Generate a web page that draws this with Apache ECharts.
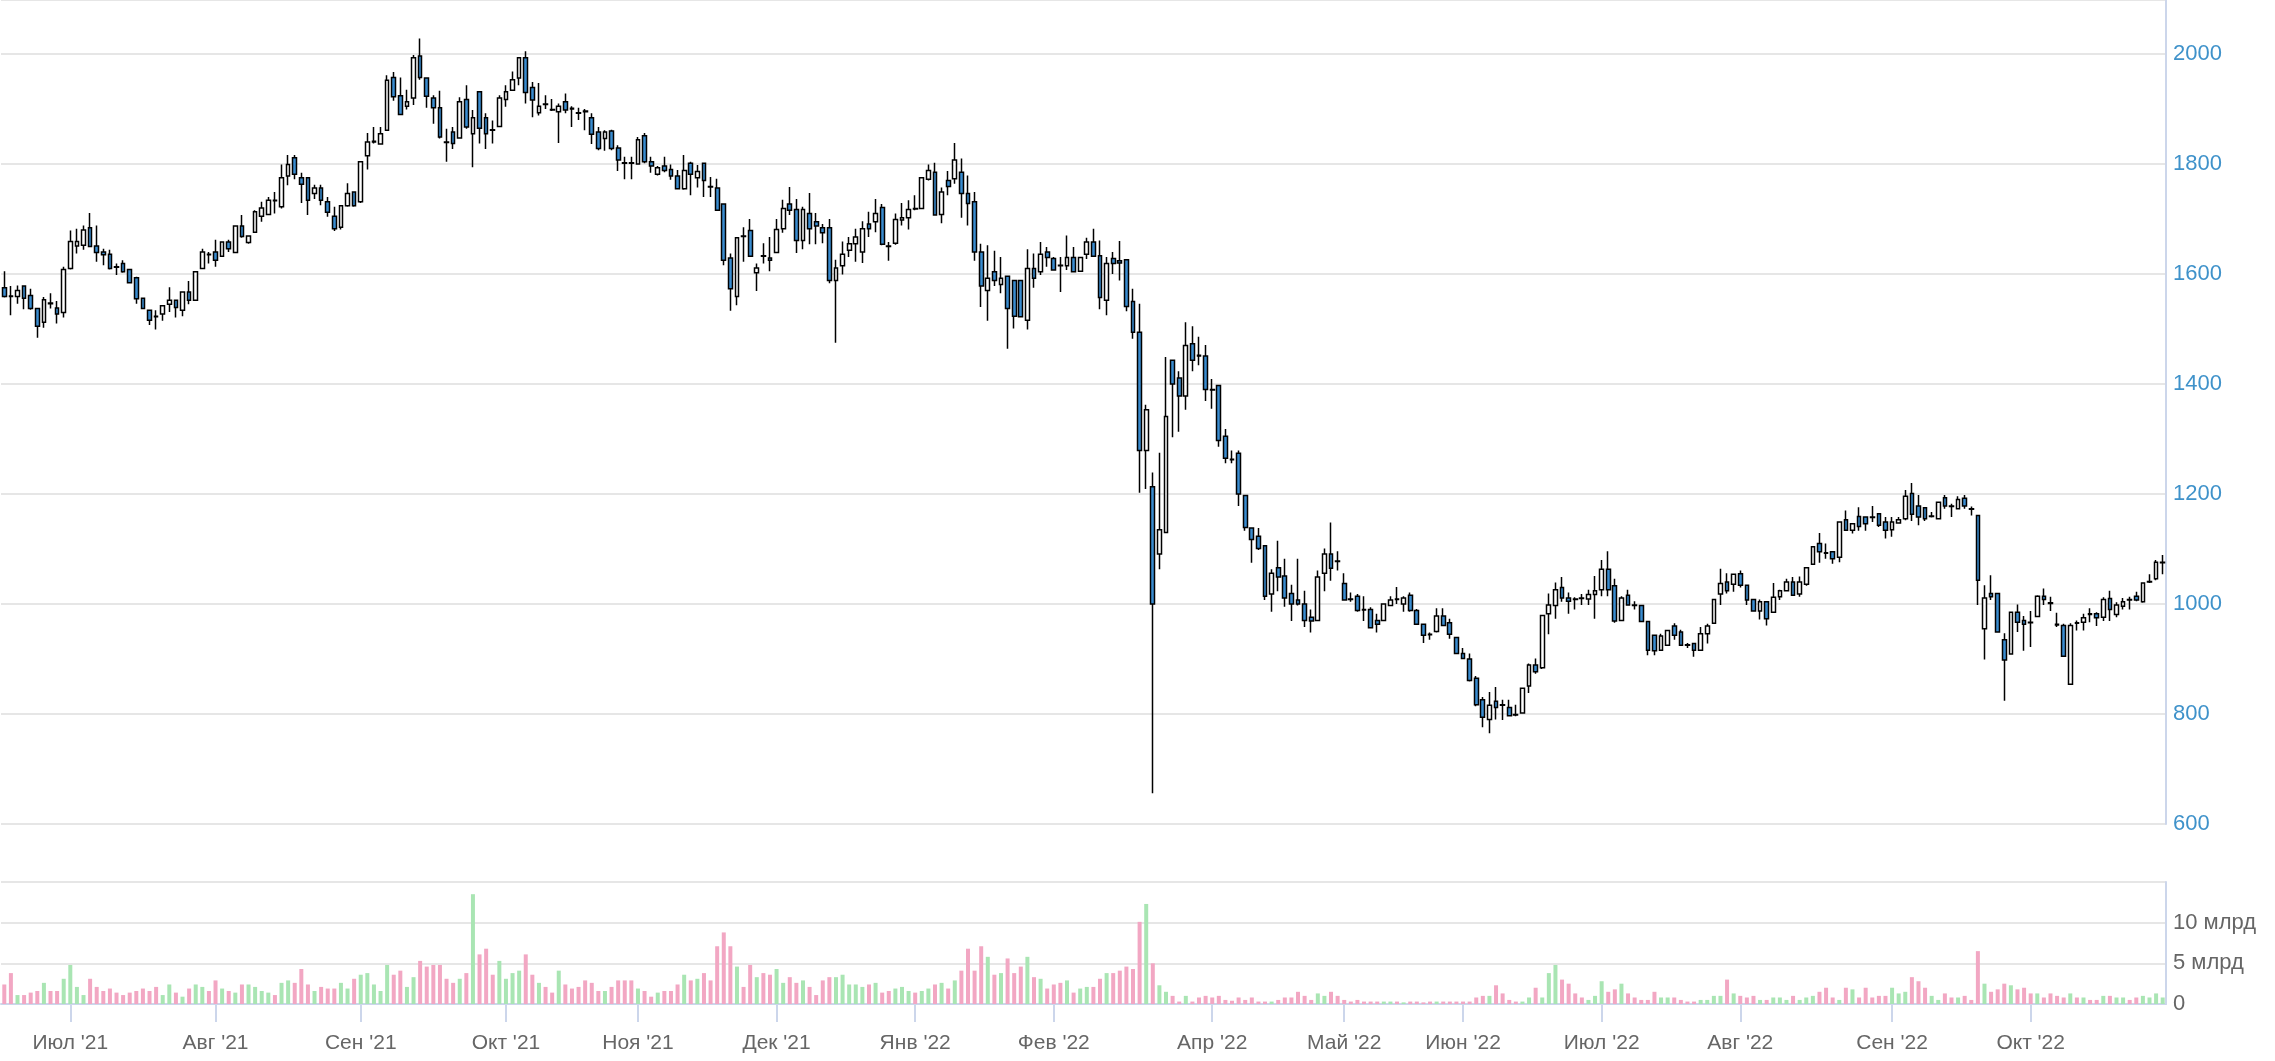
<!DOCTYPE html>
<html>
<head>
<meta charset="utf-8">
<script src="https://cdn.jsdelivr.net/npm/echarts@6/dist/echarts.min.js"></script>
<style>html,body{margin:0;padding:0;background:#fff}#c{width:2275px;height:1061px}</style>
</head>
<body>
<div id="c"></div>
<script>
// trading-day segments: [first day, number of trading days, month label shown]
const segments = [
  ['2021-06-17',10,false],['2021-07-01',22,true],['2021-08-02',22,true],['2021-09-01',22,true],
  ['2021-10-01',20,true],['2021-11-01',21,true],['2021-12-01',21,true],['2022-01-03',21,true],
  ['2022-02-01',19,true],['2022-03-24',5,false],['2022-04-01',20,true],['2022-05-04',18,true],
  ['2022-06-01',21,true],['2022-07-01',21,true],['2022-08-01',23,true],['2022-09-01',21,true],
  ['2022-10-03',21,true]
];
const monthNames = ['Янв','Фев','Мар','Апр','Май','Июн','Июл','Авг','Сен','Окт','Ноя','Дек'];

const open = [
1575,1560,1559,1578,1561,1537,1512,1547,1538,1530,
1610,1651,1652,1684,1651,1640,1636,1613,1619,1608,
1593,1556,1534,1523,1527,1545,1552,1534,1567,1552,
1610,1636,1640,1632,1658,1639,1687,1657,1676,1705,
1708,1734,1722,1778,1811,1775,1775,1746,1756,1731,
1705,1685,1724,1749,1731,1815,1840,1836,1861,1957,
1924,1905,1920,1996,1956,1920,1902,1840,1858,1847,
1917,1855,1931,1884,1862,1868,1917,1934,1956,1993,
1939,1893,1909,1899,1895,1913,1901,1893,1896,1884,
1858,1846,1860,1829,1802,1802,1800,1851,1804,1781,
1796,1790,1778,1755,1801,1775,1801,1759,1756,1727,
1629,1559,1669,1679,1602,1633,1629,1639,1682,1727,
1717,1661,1710,1695,1684,1684,1588,1615,1643,1655,
1640,1691,1695,1721,1651,1656,1698,1702,1719,1719,
1772,1785,1708,1770,1773,1785,1746,1731,1640,1570,
1604,1581,1596,1588,1588,1516,1610,1604,1640,1628,
1616,1615,1630,1605,1636,1658,
1633,1552,1628,1624,1626,1550,1494,1279,1213,1091,
1130,1443,1411,1378,1473,1452,1451,1390,1397,1305,
1263,1274,1197,1138,1123,1106,1018,1066,1051,1019,
1007,1000,976,970,1056,1091,1078,1037,1009,1014,
990,990,970,970,997,1009,1000,1016,988,963,
945,950,978,966,939,910,900,865,826,790,
823,817,812,799,802,851,889,884,982,997,
1030,1011,1009,1011,1009,1017,1026,1063,1033,970,
1016,998,997,
968,943,916,925,960,949,926,928,916,946,
965,1018,1040,1036,1055,1034,1008,987,1004,985,
1013,1024,1040,1018,1036,1072,1110,1093,1095,1085,
1153,1134,1159,1158,1158,1164,1149,1135,1147,1155,
1201,1178,1175,1159,1155,1193,1178,1173,1192,1173,
1161,955,1019,1019,935,909,985,970,967,977,
1014,1002,963,961,854,966,967,982,982,976,
1010,981,996,1008,1014,1004,1040,1046,1075
];
const close = [
1559,1559,1570,1556,1537,1505,1553,1546,1527,1608,
1659,1659,1680,1650,1639,1635,1610,1612,1604,1584,
1555,1537,1516,1522,1542,1552,1539,1567,1552,1604,
1640,1635,1625,1658,1646,1687,1668,1669,1713,1720,
1734,1733,1775,1799,1781,1763,1734,1756,1734,1712,
1682,1724,1746,1724,1804,1840,1841,1855,1952,1922,
1890,1913,1993,1957,1923,1902,1849,1839,1837,1913,
1867,1884,1865,1855,1861,1920,1931,1953,1993,1930,
1916,1905,1908,1898,1905,1898,1900,1892,1895,1854,
1828,1858,1828,1807,1801,1801,1844,1804,1796,1793,
1788,1778,1755,1788,1781,1786,1770,1758,1716,1625,
1573,1666,1668,1632,1611,1632,1625,1681,1719,1716,
1661,1717,1682,1687,1675,1588,1611,1636,1655,1667,
1682,1682,1710,1654,1650,1699,1702,1717,1718,1775,
1788,1707,1749,1759,1807,1746,1728,1640,1578,1592,
1588,1592,1537,1523,1522,1610,1592,1636,1630,1607,
1615,1630,1604,1630,1658,1632,
1557,1619,1619,1620,1541,1494,1279,1353,1000,1135,
1341,1400,1378,1470,1443,1451,1390,1389,1297,1265,
1262,1200,1139,1117,1101,1014,1056,1049,1011,1000,
1000,970,969,1049,1091,1065,1077,1007,1008,988,
989,957,963,1000,1007,1008,1011,988,963,943,
944,978,961,945,910,901,861,817,794,816,
812,816,797,798,847,889,877,979,998,1026,
1011,1005,1008,1010,1017,1024,1063,1026,969,1011,
998,997,968,
916,915,942,952,943,925,925,916,946,960,
1008,1037,1024,1054,1034,1007,987,1004,973,1012,
1024,1040,1016,1040,1066,1104,1095,1092,1082,1149,
1134,1146,1141,1146,1157,1143,1134,1149,1153,1196,
1163,1158,1155,1160,1185,1178,1177,1190,1178,1172,
1043,1011,1013,949,898,985,967,963,966,1014,
1008,1001,962,905,961,965,975,981,975,1008,
990,998,1004,1007,1007,1038,1041,1076,1076
];
const low = [
1557,1525,1546,1536,1535,1484,1502,1537,1510,1521,
1608,1637,1644,1649,1622,1616,1608,1598,1602,1583,
1546,1537,1507,1499,1515,1531,1521,1523,1545,1552,
1610,1619,1613,1632,1640,1639,1666,1655,1676,1695,
1708,1710,1719,1761,1772,1729,1707,1736,1725,1704,
1678,1681,1722,1722,1729,1790,1837,1836,1860,1915,
1889,1899,1907,1953,1902,1873,1846,1804,1827,1846,
1864,1794,1837,1827,1837,1867,1904,1933,1943,1910,
1885,1888,1900,1896,1838,1892,1867,1880,1861,1836,
1825,1824,1825,1787,1772,1772,1799,1801,1784,1779,
1785,1771,1755,1753,1743,1757,1740,1740,1716,1616,
1533,1543,1622,1631,1569,1619,1605,1639,1675,1707,
1638,1645,1654,1654,1656,1583,1475,1599,1631,1622,
1620,1667,1676,1652,1624,1653,1688,1681,1716,1719,
1770,1707,1692,1743,1764,1702,1688,1624,1540,1515,
1578,1565,1464,1501,1522,1499,1575,1598,1613,1606,
1567,1607,1603,1604,1627,1631,
1536,1525,1600,1588,1532,1482,1202,1209,656,1063,
1130,1303,1313,1353,1423,1434,1369,1355,1286,1256,
1256,1178,1133,1075,1098,1007,986,1023,995,969,
997,958,948,970,1023,1042,1061,1007,1004,986,
969,956,948,969,996,1000,986,986,962,929,
935,948,961,937,909,900,859,814,776,765,
790,789,796,796,802,838,873,882,945,973,
1004,982,990,998,998,973,1014,1014,966,969,
997,990,967,
907,907,915,925,935,925,920,904,916,928,
965,998,1019,1022,1030,998,986,972,961,985,
1007,1024,1016,1013,1033,1072,1075,1082,1073,1076,
1134,1128,1133,1133,1149,1140,1119,1122,1146,1152,
1151,1143,1151,1157,1155,1173,1158,1173,1173,1161,
998,899,1007,949,824,909,949,915,922,976,
998,987,958,904,854,952,952,967,960,969,
969,976,990,990,1005,1002,1038,1043,1054
];
const high = [
1605,1578,1579,1579,1573,1537,1558,1565,1551,1613,
1679,1682,1688,1711,1688,1646,1644,1619,1625,1608,
1595,1556,1534,1534,1542,1576,1552,1567,1587,1604,
1646,1640,1662,1658,1662,1687,1707,1669,1716,1731,
1740,1749,1799,1816,1816,1784,1775,1762,1762,1740,
1722,1724,1765,1749,1804,1856,1867,1867,1961,1967,
1957,1935,1998,2028,1956,1925,1933,1864,1867,1921,
1943,1898,1931,1892,1879,1925,1943,1968,1993,2005,
1949,1947,1925,1918,1910,1928,1905,1902,1900,1892,
1867,1861,1862,1834,1813,1813,1849,1856,1813,1796,
1813,1799,1789,1816,1804,1798,1802,1776,1773,1728,
1637,1667,1685,1700,1619,1656,1667,1700,1735,1758,
1736,1722,1747,1711,1691,1700,1626,1659,1667,1682,
1696,1713,1736,1727,1658,1710,1729,1734,1743,1775,
1799,1802,1757,1787,1838,1810,1779,1749,1655,1652,
1642,1631,1596,1588,1588,1645,1637,1658,1649,1631,
1631,1670,1649,1631,1666,1682,
1661,1631,1640,1660,1626,1573,1546,1362,1239,1275,
1449,1443,1423,1512,1505,1486,1471,1409,1397,1318,
1279,1279,1197,1138,1138,1106,1063,1115,1082,1035,
1082,1024,990,1061,1101,1148,1096,1056,1021,1018,
1014,994,982,1000,1014,1031,1014,1021,991,963,
948,992,992,973,939,920,910,869,831,840,
849,826,826,817,847,892,901,979,1019,1039,
1049,1021,1012,1018,1026,1051,1080,1096,1046,1014,
1026,1005,998,
968,943,946,953,965,953,929,928,958,964,
1008,1064,1056,1054,1061,1034,1008,1008,1004,1038,
1026,1046,1049,1050,1066,1104,1129,1110,1095,1149,
1170,1147,1176,1158,1178,1164,1158,1158,1158,1207,
1220,1198,1175,1167,1185,1198,1182,1196,1198,1177,
1161,1034,1052,1019,947,985,999,978,987,1016,
1028,1013,984,964,965,970,982,992,985,1012,
1024,1003,1011,1013,1022,1038,1054,1080,1089
];
// daily volume, billions
const volume = [
2.4,3.8,1.1,1.1,1.4,1.6,2.6,1.6,1.6,3.1,
4.8,2.1,1.1,3.1,2.1,1.6,1.9,1.4,1.1,1.4,
1.6,1.9,1.6,2.1,1.1,2.4,1.4,0.9,1.9,2.4,
2.1,1.6,2.9,1.9,1.6,1.4,2.4,2.4,2.1,1.6,
1.4,1.1,2.6,2.9,2.6,4.3,2.4,1.6,2.1,1.9,
1.9,2.6,1.9,3.1,3.6,3.8,2.4,1.6,4.8,3.6,
4.1,2.1,3.3,5.3,4.6,4.8,4.8,3.1,2.6,3.1,
3.8,13.5,6.1,6.8,3.6,5.3,3.1,3.8,4.1,6.1,
3.6,2.6,2.1,1.4,4.1,2.4,1.9,2.1,2.9,
2.6,1.6,1.6,2.1,2.9,2.9,2.9,1.9,1.6,
0.9,1.4,1.6,1.6,2.4,3.6,2.9,3.1,3.8,2.9,
7.1,8.8,7.1,4.6,2.1,4.8,3.3,3.8,3.6,4.3,
2.6,3.3,2.6,2.9,2.1,1.1,2.9,3.3,3.3,3.6,
2.4,2.4,2.1,2.4,2.6,1.4,1.6,1.9,2.1,1.6,
1.4,1.6,1.9,2.4,2.6,1.9,2.9,4.1,6.8,4.1,
7.1,5.8,3.6,3.8,5.6,3.8,4.6,5.8,3.3,3.1,
1.9,2.4,2.6,2.9,1.4,1.9,2.1,2.1,3.1,3.8,
3.8,4.1,4.6,4.3,
10.1,12.3,5.0,2.3,1.5,1.0,0.3,1.0,0.3,0.8,
1.0,0.8,1.0,0.5,0.4,0.8,0.5,0.8,0.3,0.3,
0.3,0.5,0.8,0.8,1.5,1.0,0.5,1.3,1.0,1.5,
1.0,0.5,0.3,0.5,0.3,0.3,0.3,0.3,0.3,0.3,
0.2,0.3,0.3,0.2,0.3,0.3,0.3,0.3,0.3,0.3,0.3,
0.8,1.0,1.0,2.3,1.3,0.5,0.3,0.3,0.8,2.0,
0.8,3.8,4.8,3.0,2.5,1.3,0.8,0.5,1.0,2.8,
1.5,1.8,2.5,1.3,0.8,0.5,0.5,1.5,0.8,0.8,
0.8,0.5,0.3,0.3,0.5,0.5,1.0,1.0,3.0,1.3,
1.0,0.8,1.0,0.5,0.5,0.8,0.8,0.5,1.0,0.5,
0.8,1.0,1.5,2.0,0.8,0.5,2.0,1.8,0.8,2.0,
0.8,1.0,1.0,2.0,1.3,1.5,3.3,2.8,2.0,1.0,
0.5,1.3,0.8,0.8,1.0,0.5,6.5,2.5,1.5,1.8,
2.5,2.3,1.8,2.0,1.3,1.3,0.8,1.3,1.0,0.8,
1.3,0.8,0.8,0.5,0.5,1.0,1.0,0.8,0.8,0.5,
0.8,1.0,0.8,1.3,0.8
];
const priceTicks = [600,800,1000,1200,1400,1600,1800,2000];
const volTickLabels = {0:'0',5:'5 млрд',10:'10 млрд'};

// categories (trading days)
const cats = [];
const labelIdx = new Set();
segments.forEach(([start, n, shown]) => {
  const d = new Date(start + 'T00:00:00Z');
  if (shown) labelIdx.add(cats.length);
  let k = 0;
  while (k < n) {
    const wd = d.getUTCDay();
    if (wd !== 0 && wd !== 6) { cats.push(d.toISOString().slice(0, 10)); k++; }
    d.setUTCDate(d.getUTCDate() + 1);
  }
});
const showIdx = (i) => labelIdx.has(i);
const fmtMonth = (v) => monthNames[parseInt(v.slice(5, 7), 10) - 1] + " '" + v.slice(2, 4);

const candleData = open.map((o, i) => [o, close[i], low[i], high[i]]);
const volData = volume.map((v, i) => ({
  value: v,
  itemStyle: { color: close[i] > open[i] ? '#a9e5b3' : '#f2a7c3' }
}));

const chart = echarts.init(document.getElementById('c'));
chart.setOption({
  animation: false,
  backgroundColor: '#ffffff',
  textStyle: { fontFamily: 'Liberation Sans, Arial, sans-serif' },
  grid: [
    { left: 1, right: 109, top: 0, height: 824 },
    { left: 1, right: 109, top: 882, height: 122 }
  ],
  xAxis: [
    { type: 'category', gridIndex: 0, data: cats, boundaryGap: true,
      axisLine: { show: false }, axisTick: { show: false }, axisLabel: { show: false }, splitLine: { show: false } },
    { type: 'category', gridIndex: 1, data: cats, boundaryGap: true, offset: 9,
      axisLine: { show: true, lineStyle: { color: '#ccd6eb', width: 2 } },
      axisTick: { show: true, alignWithLabel: true, length: 18, interval: showIdx, lineStyle: { color: '#ccd6eb', width: 2 } },
      axisLabel: { interval: showIdx, formatter: fmtMonth, color: '#666666', fontSize: 21, margin: 20 },
      splitLine: { show: false } }
  ],
  yAxis: [
    { type: 'value', gridIndex: 0, position: 'right', min: 600, max: 2098, interval: 200,
      axisLine: { show: true, lineStyle: { color: '#ccd6eb', width: 2 } },
      axisTick: { show: false },
      splitLine: { show: true, lineStyle: { color: '#e6e6e6', width: 2 } },
      axisLabel: { color: '#3f92ca', fontSize: 22, margin: 7,
        formatter: (v) => priceTicks.includes(v) ? String(v) : '' } },
    { type: 'value', gridIndex: 1, position: 'right', min: 0, max: 15, interval: 5,
      axisLine: { show: true, lineStyle: { color: '#ccd6eb', width: 2 } },
      axisTick: { show: false },
      splitLine: { show: true, lineStyle: { color: '#e6e6e6', width: 2 } },
      axisLabel: { color: '#666666', fontSize: 22, margin: 7,
        formatter: (v) => (volTickLabels[v] !== undefined ? volTickLabels[v] : '') } }
  ],
  series: [
    { type: 'candlestick', xAxisIndex: 0, yAxisIndex: 0, data: candleData, barWidth: 4.2,
      itemStyle: { color: '#ffffff', color0: '#3a8cd0', borderColor: '#000000', borderColor0: '#000000',
        borderColorDoji: '#000000', borderWidth: 1.5 } },
    { type: 'bar', xAxisIndex: 1, yAxisIndex: 1, data: volData, barWidth: 4 }
  ]
});
</script>
</body>
</html>
